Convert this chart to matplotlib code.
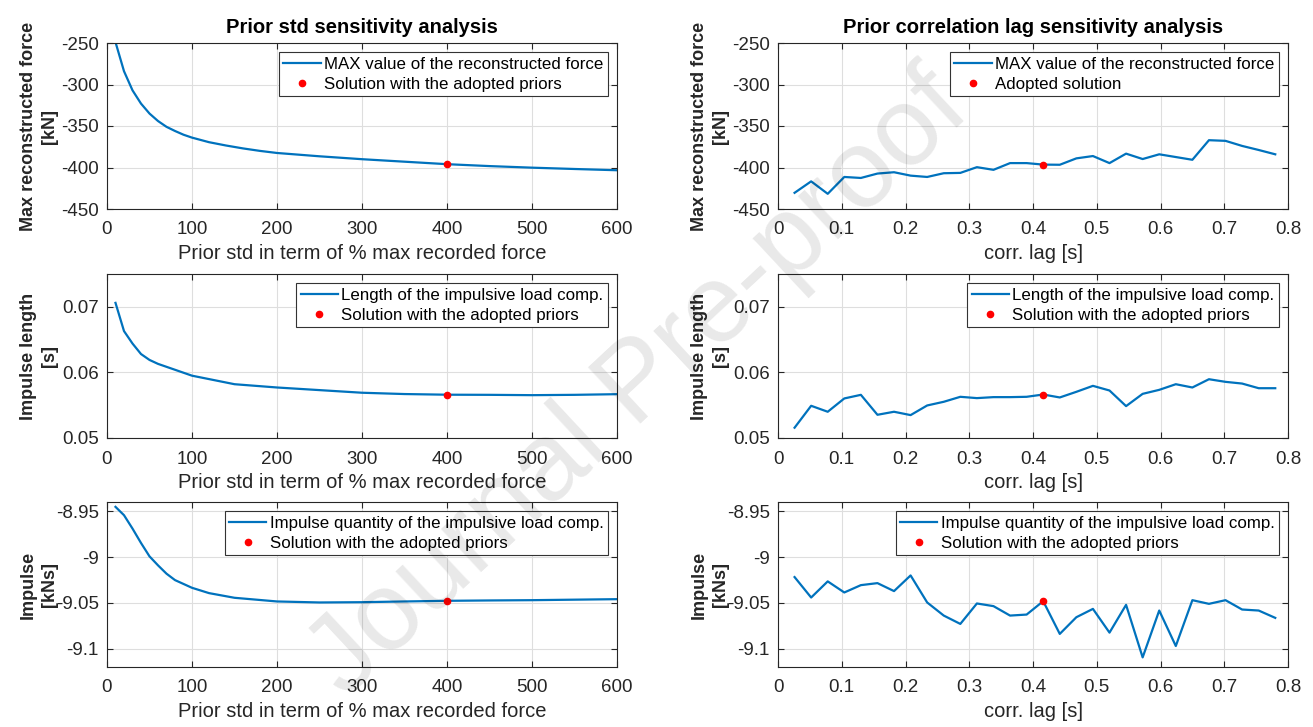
import matplotlib
matplotlib.use("Agg")
import matplotlib.pyplot as plt
from matplotlib.ticker import FuncFormatter

plt.rcParams['font.family'] = ['Liberation Sans', 'DejaVu Sans']
plt.rcParams['axes.unicode_minus'] = False

# prior std sweep (left column)
std_pct = [10, 20, 30, 40, 50, 60, 70, 80, 90, 100, 120, 140, 160, 180, 200,
           250, 300, 350, 400, 450, 500, 550, 600]
std_maxforce = [-249, -284, -307, -323, -335, -344, -351, -356, -360.5, -364,
                -369.5, -373.5, -377, -380, -382.5, -386.5, -390, -393, -396,
                -398.3, -400.2, -401.8, -403.3]
std_length_pct = [10, 20, 30, 40, 50, 60, 80, 100, 150, 200, 250, 300, 350,
                  400, 450, 500, 550, 600]
std_length = [0.0706, 0.0663, 0.0644, 0.0628, 0.0619, 0.0613, 0.0604, 0.0595,
              0.0582, 0.0577, 0.0573, 0.0569, 0.0567, 0.0566, 0.05658, 0.05653,
              0.05658, 0.05668]
std_impulse_pct = [10, 20, 30, 40, 50, 60, 70, 80, 100, 120, 150, 200, 250,
                   300, 350, 400, 450, 500, 600]
std_impulse = [-8.9453, -8.9544, -8.969, -8.9847, -8.9993, -9.0091, -9.0182,
               -9.0252, -9.0336, -9.0394, -9.0445, -9.0485, -9.0496, -9.0493,
               -9.0485, -9.0478, -9.0474, -9.0471, -9.046]
std_adopted = 400
std_adopted_vals = [-396, 0.0566, -9.0478]

# correlation lag sweep (right column)
corr_lag = [0.026, 0.052, 0.078, 0.104, 0.130, 0.156, 0.182, 0.208, 0.234, 0.260,
            0.286, 0.312, 0.338, 0.364, 0.390, 0.416, 0.442, 0.468, 0.494, 0.520,
            0.546, 0.572, 0.598, 0.624, 0.650, 0.676, 0.702, 0.728, 0.754, 0.780]
lag_maxforce = [-430.5, -416.7, -431.7, -411.4, -412.6, -407.3, -405.7, -409.8,
                -411.4, -406.9, -406.5, -399.6, -402.8, -394.7, -394.7, -396.5,
                -396.7, -389.0, -386.2, -394.7, -383.3, -389.8, -384.1, -387.4,
                -390.7, -367.1, -367.9, -374.0, -378.9, -384.1]
lag_length = [0.05157, 0.05491, 0.05400, 0.05603, 0.05658, 0.05354, 0.05400,
              0.05349, 0.05496, 0.05552, 0.05628, 0.05608, 0.05623, 0.05623,
              0.05628, 0.05663, 0.05618, 0.05704, 0.05795, 0.05724, 0.05486,
              0.05673, 0.05734, 0.05820, 0.05770, 0.05896, 0.05856, 0.05830,
              0.05759, 0.05759]
lag_impulse = [-9.0219, -9.0442, -9.0266, -9.0387, -9.0307, -9.0285, -9.0372,
               -9.0201, -9.0496, -9.0639, -9.0730, -9.0507, -9.0536, -9.0639,
               -9.0628, -9.0482, -9.0839, -9.0657, -9.0566, -9.0825, -9.0522,
               -9.1095, -9.0584, -9.0971, -9.0471, -9.0511, -9.0471, -9.0573,
               -9.0584, -9.0664]
lag_adopted = 0.416
lag_adopted_vals = [-396.5, 0.05663, -9.0482]

ylabels = ["Max reconstructed force\n[kN]", "Impulse length\n[s]", "Impulse\n[kNs]"]
ylims = [(-450, -250), (0.05, 0.075), (-9.12, -8.94)]
yticks = [[-450, -400, -350, -300, -250], [0.05, 0.06, 0.07],
          [-9.1, -9.05, -9, -8.95]]
left_names = ["MAX value of the reconstructed force",
              "Length of the impulsive load comp.",
              "Impulse quantity of the impulsive load comp."]
right_dot_names = ["Adopted solution", "Solution with the adopted priors",
                   "Solution with the adopted priors"]

blue = '#0072BD'
dark = '#262626'
W, H = 1313, 727
fig = plt.figure(figsize=(W / 100, H / 100), dpi=100)

rows = [(43, 209), (274, 438), (502, 667)]
cols = [(107, 617), (778, 1288)]

fmt = FuncFormatter(lambda v, p: f'{v:g}')


def style(ax, r):
    ax.set_ylim(*ylims[r])
    ax.set_yticks(yticks[r])
    ax.yaxis.set_major_formatter(fmt)
    ax.xaxis.set_major_formatter(fmt)
    ax.grid(True, color='#dedede', linewidth=0.8)
    ax.set_axisbelow(True)
    ax.tick_params(direction='in', top=True, right=True, length=4, width=0.8,
                   labelsize=13.5, colors=dark, pad=6)
    ax.tick_params(axis='x', pad=9)
    for s in ax.spines.values():
        s.set_color(dark)
        s.set_linewidth(0.8)
    ax.set_ylabel(ylabels[r], fontsize=13, fontweight='bold', color=dark,
                  linespacing=1.3)
    ax.yaxis.set_label_coords(-0.097, 0.5)
    leg = ax.legend(loc='upper right', fontsize=12.2, fancybox=False,
                    framealpha=1, edgecolor='#333333', borderpad=0.25,
                    labelspacing=0.3, handlelength=2.2, handletextpad=0.2,
                    borderaxespad=0.55)
    leg.get_frame().set_linewidth(0.8)


for r, (y0, y1) in enumerate(rows):
    # left column
    x0, x1 = cols[0]
    ax = fig.add_axes([x0 / W, 1 - y1 / H, (x1 - x0) / W, (y1 - y0) / H])
    xs = [std_pct, std_length_pct, std_impulse_pct][r]
    ys = [std_maxforce, std_length, std_impulse][r]
    ax.plot(xs, ys, color=blue, lw=1.6, label=left_names[r])
    ax.plot(std_adopted, std_adopted_vals[r], 'o', color='red', ms=4.5,
            label="Solution with the adopted priors")
    ax.set_xlim(0, 600)
    ax.set_xticks(range(0, 601, 100))
    style(ax, r)
    ax.set_xlabel("Prior std in term of % max recorded force", fontsize=14.5,
                  color=dark, labelpad=4)
    if r == 0:
        ax.set_title("Prior std sensitivity analysis", fontsize=14.5,
                     fontweight='bold', pad=7)

    # right column
    x0, x1 = cols[1]
    ax = fig.add_axes([x0 / W, 1 - y1 / H, (x1 - x0) / W, (y1 - y0) / H])
    ys = [lag_maxforce, lag_length, lag_impulse][r]
    ax.plot(corr_lag, ys, color=blue, lw=1.6, label=left_names[r])
    ax.plot(lag_adopted, lag_adopted_vals[r], 'o', color='red', ms=4.5,
            label=right_dot_names[r])
    ax.set_xlim(0, 0.8)
    ax.set_xticks([i / 10 for i in range(9)])
    style(ax, r)
    ax.set_xlabel("corr. lag [s]", fontsize=14.5, color=dark, labelpad=4)
    if r == 0:
        ax.set_title("Prior correlation lag sensitivity analysis", fontsize=14.5,
                     fontweight='bold', pad=7)

# watermark
fig.text(0.487, 0.47, "Journal Pre-proof", rotation=43, fontsize=80,
         color='black', alpha=0.09, ha='center', va='center', zorder=20)

fig.savefig("out.png", dpi=100)
